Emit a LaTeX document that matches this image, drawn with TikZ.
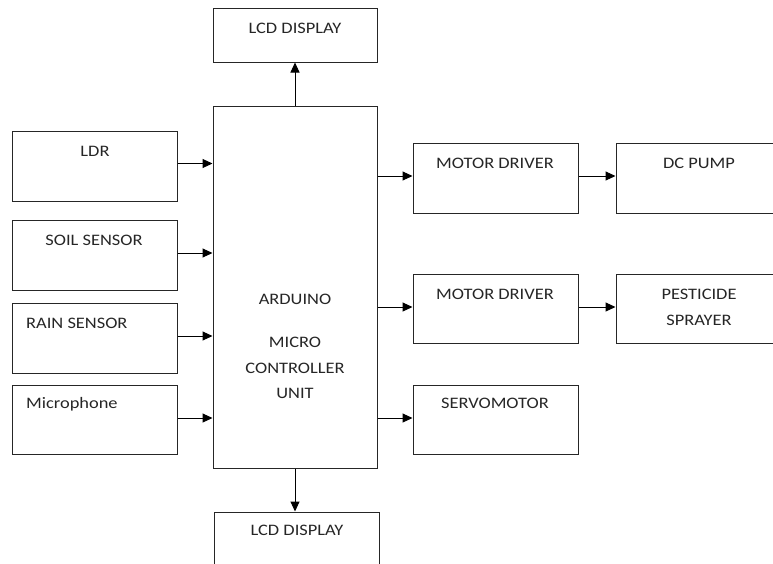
\documentclass[tikz,border=0pt]{standalone}
\usepackage{fontspec}
\setmainfont{Carlito}[FakeStretch=1.15]
\usetikzlibrary{arrows.meta,fit}
\begin{document}
\begin{tikzpicture}[x=1pt,y=-1pt,
  blk/.style={draw=black!85, line width=1pt, inner sep=0pt, rectangle},
  lbl/.style={anchor=base, inner sep=0pt, text=black!85, font=\fontsize{16}{16}\selectfont},
  lbll/.style={lbl, anchor=base west},
  arr/.style={draw=black, line width=1pt, -{Triangle[length=10pt,width=9pt]}}]
\useasboundingbox (0,0) rectangle (773,563);
\clip (0,0) rectangle (773,563);

% boxes
\node[blk, fit={(213,8)(377,62)}] (lcd1) {};
\node[blk, fit={(213,106)(377,468)}] (ard) {};
\node[blk, fit={(214,512)(379,590)}] (lcd2) {};
\node[blk, fit={(12,131)(177,201)}] (ldr) {};
\node[blk, fit={(12,220)(177,290)}] (soil) {};
\node[blk, fit={(12,303)(177,373)}] (rain) {};
\node[blk, fit={(12,385)(177,454)}] (mic) {};
\node[blk, fit={(413,143)(578,213)}] (md1) {};
\node[blk, fit={(616,143)(781,213)}] (dc) {};
\node[blk, fit={(413,274)(578,343)}] (md2) {};
\node[blk, fit={(616,274)(781,343)}] (pest) {};
\node[blk, fit={(413,385)(578,454)}] (servo) {};

% labels
\node[lbl] (lcd1t) at (295,33) {LCD DISPLAY};
\node[lbl] (lcd2t) at (297,535.5) {LCD DISPLAY};
\node[lbl] (ldrt) at (95,156) {LDR};
\node[lbl] (soilt) at (94,245.5) {SOIL SENSOR};
\node[lbll] (raint) at (26,328) {RAIN SENSOR};
\node[lbll] (mict) at (26,408.5) {Microphone};
\node[lbl] (ard1) at (295,304) {ARDUINO};
\node[lbl] (ard2) at (295,347) {MICRO};
\node[lbl] (ard3) at (295,373) {CONTROLLER};
\node[lbl] (ard4) at (295,398) {UNIT};
\node[lbl] (md1t) at (495,168) {MOTOR DRIVER};
\node[lbl] (dct) at (699,168) {DC PUMP};
\node[lbl] (md2t) at (495,299) {MOTOR DRIVER};
\node[lbl] (pest1) at (699,299.5) {PESTICIDE};
\node[lbl] (pest2) at (699,325.5) {SPRAYER};
\node[lbl] (servot) at (495,408.5) {SERVOMOTOR};

% connectors
\draw[arr] (ard.north) -- (lcd1.south);
\draw[arr] (ard.south) -- (ard.south |- lcd2.north);
\draw[arr] ([yshift=2.5pt]ldr.east) -- ([yshift=2.5pt]ldr.east -| ard.west);
\draw[arr] ([yshift=2pt]soil.east) -- ([yshift=2pt]soil.east -| ard.west);
\draw[arr] ([yshift=2pt]rain.east) -- ([yshift=2pt]rain.east -| ard.west);
\draw[arr] ([yshift=1.5pt]mic.east) -- ([yshift=1.5pt]mic.east -| ard.west);
\draw[arr] ([yshift=2pt]md1.west -| ard.east) -- ([yshift=2pt]md1.west);
\draw[arr] ([yshift=1.5pt]md2.west -| ard.east) -- ([yshift=1.5pt]md2.west);
\draw[arr] ([yshift=1.5pt]servo.west -| ard.east) -- ([yshift=1.5pt]servo.west);
\draw[arr] ([yshift=2pt]md1.east) -- ([yshift=2pt]md1.east -| dc.west);
\draw[arr] ([yshift=1.5pt]md2.east) -- ([yshift=1.5pt]md2.east -| pest.west);
\end{tikzpicture}
\end{document}
